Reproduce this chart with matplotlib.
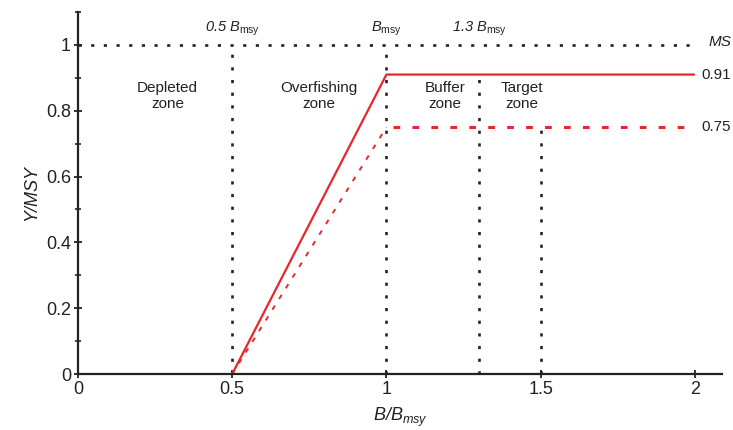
import matplotlib
matplotlib.use('Agg')
import matplotlib.pyplot as plt
from matplotlib.ticker import MultipleLocator

plt.rcParams['font.family'] = ['Liberation Sans', 'DejaVu Sans']
plt.rcParams['mathtext.fontset'] = 'custom'
plt.rcParams['mathtext.rm'] = 'Liberation Sans:italic'
plt.rcParams['mathtext.it'] = 'Liberation Sans:italic'
plt.rcParams['mathtext.sf'] = 'Liberation Sans'

# harvest control rules
hcr_x = [0.5, 1.0, 2.0]
hcr_solid = [0.0, 0.91, 0.91]
hcr_dashed = [0.0, 0.75, 0.75]

# reference points
ref_x = [0.5, 1.0, 1.3, 1.5]
ref_top = [1.0, 1.0, 0.91, 0.75]
ref_labels = [r'$0.5\ B_{\mathsf{msy}}$', r'$B_{\mathsf{msy}}$', r'$1.3\ B_{\mathsf{msy}}$']
ref_label_x = [0.5, 1.0, 1.3]

zone_names = ['Depleted\nzone', 'Overfishing\nzone', 'Buffer\nzone', 'Target\nzone']
zone_x = [0.29, 0.78, 1.19, 1.44]

red = '#e8262c'
dark = '#222222'
dots = (0, (1.2, 3.6))

fig = plt.figure(figsize=(7.33, 4.30), dpi=100)
ax = fig.add_axes([0.1064, 0.1302, 0.8786, 0.8418])

ax.set_xlim(0, 2.088)
ax.set_ylim(0, 1.1)

# MSY line and reference verticals
ax.plot([0, 2.0], [1.0, 1.0], color=dark, lw=1.9, linestyle=dots)
for x, top in zip(ref_x, ref_top):
    ax.plot([x, x], [0, top], color=dark, lw=1.9, linestyle=dots)

ax.plot(hcr_x, hcr_solid, color=red, lw=1.6, solid_capstyle='butt')
ax.plot(hcr_x[:2], hcr_dashed[:2], color=red, lw=1.4, linestyle=(0, (2.5, 4)))
ax.plot([hcr_x[1] + 0.02, hcr_x[2]], hcr_dashed[1:], color=red, lw=2.2, linestyle=(0, (2.2, 4)))

ax.text(2.02, 0.91, '0.91', fontsize=11, va='center', ha='left', color=dark)
ax.text(2.02, 0.75, '0.75', fontsize=11, va='center', ha='left', color=dark)
ax.text(2.045, 1.01, 'MS', fontsize=11, va='center', ha='left', style='italic', color=dark)

for x, lab in zip(ref_label_x, ref_labels):
    ax.text(x, 1.05, lab, fontsize=10.5, ha='center', va='center', color=dark)

for x, lab in zip(zone_x, zone_names):
    ax.text(x, 0.845, lab, fontsize=11, ha='center', va='center', color=dark,
            linespacing=1.15)

for side in ['top', 'right']:
    ax.spines[side].set_visible(False)
for side in ['left', 'bottom']:
    ax.spines[side].set_linewidth(1.6)
    ax.spines[side].set_color(dark)

ax.set_xticks([0, 0.5, 1, 1.5, 2])
ax.set_xticklabels(['0', '0.5', '1', '1.5', '2'])
ax.set_yticks([0, 0.2, 0.4, 0.6, 0.8, 1.0])
ax.set_yticklabels(['0', '0.2', '0.4', '0.6', '0.8', '1'])
ax.yaxis.set_minor_locator(MultipleLocator(0.1))
ax.tick_params(axis='both', which='major', direction='inout', length=6, width=1.3,
               labelsize=13, color=dark, labelcolor=dark, pad=2)
ax.tick_params(axis='y', which='minor', direction='inout', length=4, width=1.2, color=dark)

ax.set_xlabel(r'$B/B_{msy}$', fontsize=13, color=dark, labelpad=6)
ax.set_ylabel('Y/MSY', fontsize=13, style='italic', color=dark, labelpad=4)

fig.savefig('out.png', dpi=100)
